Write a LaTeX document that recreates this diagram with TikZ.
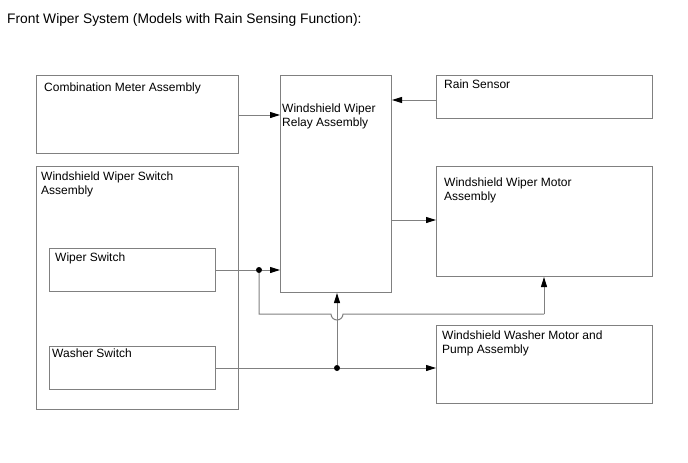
\documentclass[tikz,border=0pt]{standalone}
\usepackage{fontspec}
\setmainfont{Liberation Sans}
\usetikzlibrary{positioning,arrows.meta}

\definecolor{linegray}{RGB}{128,128,128}
\tikzset{
  box/.style={draw=linegray, line width=1pt, inner sep=0pt, anchor=north west},
  txt/.style={anchor=north west, inner sep=0pt, align=left, font=\fontsize{12}{14}\selectfont},
  wire/.style={draw=linegray, line width=1pt},
  arr/.style={wire, -{Triangle[length=10pt,width=6pt,fill=black,color=black]}},
  dot/.style={circle, fill=black, inner sep=0pt, minimum size=6pt}
}

\begin{document}
\begin{tikzpicture}[x=1pt,y=-1pt]
\useasboundingbox (0,0) rectangle (688,463);
\node[txt, font=\fontsize{13.8}{16}\selectfont] (title) at (7,13) {Front Wiper System (Models with Rain Sensing Function):};

% boxes
\node[box, minimum width=202pt, minimum height=78pt] (meter) at (36,75) {};
\node[box, minimum width=111pt, minimum height=217pt] (relay) at (280,75) {};
\node[box, minimum width=216pt, minimum height=43pt] (rain) at (436,75) {};
\node[box, minimum width=216pt, minimum height=110pt] (motor) at (436,166) {};
\node[box, minimum width=202pt, minimum height=243pt] (swassy) at (36,166) {};
\node[box, minimum width=166pt, minimum height=43pt] (wiper) at (49,248) {};
\node[box, minimum width=166pt, minimum height=43pt] (washer) at (49,346) {};
\node[box, minimum width=216pt, minimum height=78pt] (pump) at (436,325) {};

% texts
\node[txt] (meterT) at (44,83) {Combination Meter Assembly};
\node[txt] (relayT) at (282,104) {Windshield Wiper\\Relay Assembly};
\node[txt] (rainT) at (444,80) {Rain Sensor};
\node[txt] (motorT) at (444,178) {Windshield Wiper Motor\\Assembly};
\node[txt] (swassyT) at (41,172) {Windshield Wiper Switch\\Assembly};
\node[txt] (wiperT) at (55,253) {Wiper Switch};
\node[txt] (washerT) at (52,349) {Washer Switch};
\node[txt] (pumpT) at (442,331) {Windshield Washer Motor and\\Pump Assembly};

% junctions
\node[dot] (j1) at (259,270) {};
\node[dot] (j2) at (337,368) {};
\coordinate (c1) at (259,314);
\coordinate (c2) at (544,314);

% connectors
\draw[arr] (meter.east |- 0,115) -- (relay.west |- 0,115);
\draw[arr] (rain.west |- 0,100) -- (relay.east |- 0,100);
\draw[arr] (relay.east |- 0,220) -- (motor.west |- 0,220);
\draw[wire] (wiper.east |- j1) -- (j1);
\draw[arr] (j1) -- (relay.west |- j1);
\draw[wire] (j1) -- (c1) -- (331,314) arc[start angle=180, end angle=0, radius=6] -- (c2);
\draw[arr] (c2) -- (motor.south -| c2);
\draw[wire] (washer.east |- j2) -- (j2);
\draw[arr] (j2) -- (pump.west |- j2);
\draw[arr] (j2) -- (relay.south -| j2);
\end{tikzpicture}
\end{document}
